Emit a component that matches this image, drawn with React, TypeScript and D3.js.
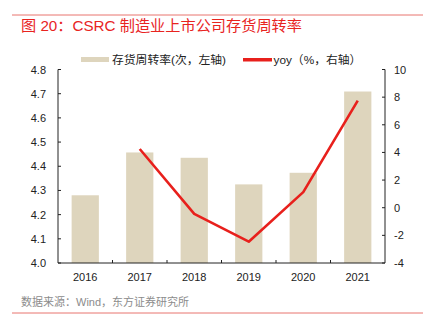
import React from "react";
import * as d3 from "d3";

const years = ["2016", "2017", "2018", "2019", "2020", "2021"];
const turnover = [4.28, 4.457, 4.435, 4.325, 4.373, 4.709];
const yoyYears = ["2017", "2018", "2019", "2020", "2021"];
const yoy = [4.25, -0.45, -2.46, 1.13, 7.75];
const leftTicks = [4.0, 4.1, 4.2, 4.3, 4.4, 4.5, 4.6, 4.7, 4.8];
const rightTicks = [-4, -2, 0, 2, 4, 6, 8, 10];

const W = 432, H = 330;
const left = 58, right = 385, top = 69.5, bottom = 263;
const FONT = "'Liberation Sans', Arial, 'Noto Sans CJK SC', sans-serif";
const BAR = "#ded5bd";
const RED = "#e8201c";

export default function App() {
  const x = d3.scaleBand().domain(years).range([left, right]).paddingInner(0.5).paddingOuter(0.25);
  const band = d3.scaleBand().domain(years).range([left, right]);
  const yL = d3.scaleLinear().domain([4.0, 4.8]).range([bottom, top]);
  const yR = d3.scaleLinear().domain([-4, 10]).range([bottom, top]);
  const line = d3.line<number>()
    .x((_, i) => (band(yoyYears[i]) as number) + band.bandwidth() / 2)
    .y((d) => yR(d));

  return (
    <svg width={W} height={H} style={{ position: "absolute", left: 0, top: 0, fontFamily: FONT }}>
      <rect width={W} height={H} fill="#fff" />
      <line x1={12} x2={423} y1={15} y2={15} stroke="#e8756f" strokeWidth={1} />
      <text x={21} y={31} fontSize={15.2} fill="#e8241f" fontFamily={FONT}>图 20：CSRC 制造业上市公司存货周转率</text>

      {/* legend */}
      <rect x={81} y={57} width={28} height={5} fill={BAR} />
      <text x={112} y={63.5} fontSize={11.8} fill="#222">存货周转率(次，左轴)</text>
      <rect x={243} y={58} width={29} height={3.5} fill={RED} />
      <text x={273.5} y={63.5} fontSize={11.8} fill="#222">yoy（%，右轴）</text>

      {/* bars */}
      {years.map((yr, i) => (
        <rect key={yr} x={x(yr)} y={yL(turnover[i])} width={x.bandwidth()} height={bottom - yL(turnover[i])} fill={BAR} />
      ))}

      {/* line */}
      <path d={line(yoy) || ""} fill="none" stroke={RED} strokeWidth={2.6} strokeLinejoin="round" />

      {/* axes */}
      <line x1={left} x2={left} y1={top} y2={bottom} stroke="#222" strokeWidth={1} />
      <line x1={right} x2={right} y1={top} y2={bottom} stroke="#222" strokeWidth={1} />
      <line x1={left} x2={right} y1={bottom} y2={bottom} stroke="#222" strokeWidth={1} />
      {leftTicks.map((t) => (
        <g key={"l" + t}>
          <line x1={left} x2={left + 3} y1={yL(t)} y2={yL(t)} stroke="#222" />
          <text x={46} y={yL(t) + 4} fontSize={11} textAnchor="end" fill="#222">{t.toFixed(1)}</text>
        </g>
      ))}
      {rightTicks.map((t) => (
        <g key={"r" + t}>
          <line x1={right - 3} x2={right} y1={yR(t)} y2={yR(t)} stroke="#222" />
          <text x={394} y={yR(t) + 4} fontSize={11} textAnchor="start" fill="#222">{t}</text>
        </g>
      ))}
      {years.slice(1).map((yr) => (
        <line key={"t" + yr} x1={band(yr)} x2={band(yr)} y1={bottom} y2={bottom - 3} stroke="#222" />
      ))}
      {years.map((yr) => (
        <text key={"x" + yr} x={(band(yr) as number) + band.bandwidth() / 2} y={281} fontSize={11} textAnchor="middle" fill="#222">{yr}</text>
      ))}

      <text x={21} y={306} fontSize={11} fill="#8c8c8c">数据来源：Wind，东方证券研究所</text>
      <line x1={12} x2={423} y1={313} y2={313} stroke="#e8756f" strokeWidth={1} />
    </svg>
  );
}
